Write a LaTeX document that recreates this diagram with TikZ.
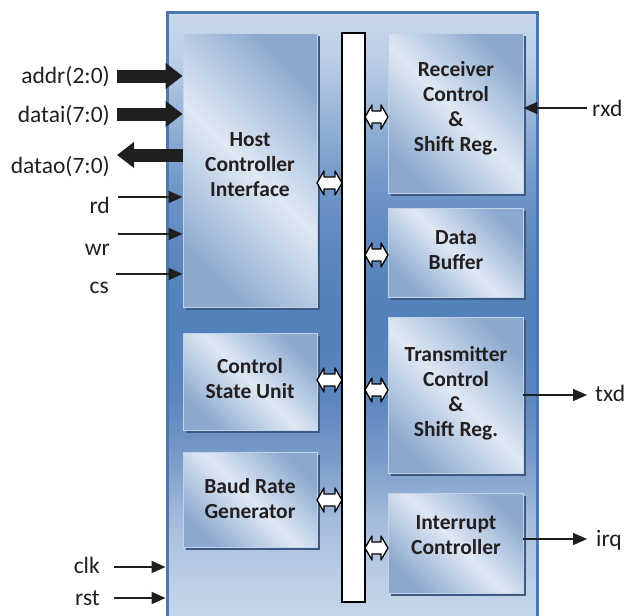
\documentclass[tikz,border=0pt]{standalone}
\usepackage{fontspec}
\setmainfont{Carlito}
\usetikzlibrary{arrows.meta,shadows}
\definecolor{oa}{HTML}{C9D8EB}
\definecolor{ob}{HTML}{BCCEE6}
\definecolor{oc}{HTML}{96B2D7}
\definecolor{od}{HTML}{7399C9}
\definecolor{oe}{HTML}{5E88BF}
\definecolor{of}{HTML}{5280BA}
\definecolor{og}{HTML}{5C86BE}
\definecolor{oh}{HTML}{7B9CCA}
\definecolor{oi}{HTML}{A5BCDC}
\definecolor{oj}{HTML}{C0D1E7}
\definecolor{ok}{HTML}{C8D7EA}
\definecolor{oedge}{HTML}{4A78B2}
\definecolor{bdk}{HTML}{8CA8CE}
\definecolor{blt}{HTML}{DFE8F3}
\definecolor{bmd}{HTML}{B8CBE3}
\definecolor{bedge}{HTML}{C3D3E7}
\definecolor{shd}{HTML}{3C5A84}
\definecolor{txt}{HTML}{231F20}
\pgfdeclarehorizontalshading{glass}{100bp}{color(0bp)=(bdk); color(25bp)=(bdk); color(38bp)=(bmd); color(50bp)=(blt); color(62bp)=(bmd); color(75bp)=(bdk); color(100bp)=(bdk)}
\pgfdeclareverticalshading{chipshade}{100bp}{color(0bp)=(ok); color(25bp)=(ok); color(29bp)=(oj); color(34.6bp)=(oi); color(39.3bp)=(oh); color(44.1bp)=(og); color(50.5bp)=(of); color(56.8bp)=(oe); color(61.6bp)=(od); color(66.4bp)=(oc); color(71.2bp)=(ob); color(75bp)=(oa); color(100bp)=(oa)}
\begin{document}
\begin{tikzpicture}[x=1pt,y=-1pt,
  outer/.style={rectangle, inner sep=0, shading=chipshade, draw=oedge, line width=3pt},
  ibox/.style={rectangle, inner sep=0, shading=glass, shading angle=45, draw=bedge, line width=0.8pt,
    drop shadow={shadow xshift=3pt, shadow yshift=-3pt, fill=shd, opacity=1}},
  btext/.style={font=\bfseries\fontsize{21.5}{25}\selectfont, text=txt, align=center, inner sep=0},
  lbl/.style={font=\fontsize{23.5}{28}\selectfont, text=txt, inner sep=0},
  busbox/.style={rectangle, draw=black, fill=white, line width=2pt, inner sep=0},
  bigarr/.style={line width=13pt, draw=black!88, -{Triangle[length=17pt,width=25pt]}},
  smallarr/.style={line width=1.6pt, draw=black!88, -{Triangle[length=14pt,width=12pt]}},
  pics/dbl/.style={code={
    \draw[fill=white, draw=black, line width=1.3pt, line join=round]
      (-#1,0) -- (-#1+7,-12) -- (-#1+7,-6) -- (#1-7,-6) -- (#1-7,-12) -- (#1,0)
      -- (#1-7,12) -- (#1-7,6) -- (-#1+7,6) -- (-#1+7,12) -- cycle;}}
]
\clip (0,0) rectangle (627,616);
% outer chip
\node[outer, minimum width=370, minimum height=628] (chip) at (352,326) {};
% inner boxes
\node[ibox, minimum width=134, minimum height=274] (hci) at (250,170) {};
\node[ibox, minimum width=134, minimum height=97] (csu) at (250,381.5) {};
\node[ibox, minimum width=134, minimum height=95] (brg) at (250,499.5) {};
\node[ibox, minimum width=135, minimum height=160] (rcv) at (455.5,113) {};
\node[ibox, minimum width=135, minimum height=89] (dbuf) at (455.5,252.5) {};
\node[ibox, minimum width=135, minimum height=156] (tx) at (455.5,395) {};
\node[ibox, minimum width=135, minimum height=100] (intc) at (455.5,543) {};
% texts
\node[btext] (thci) at (250,165) {Host\\Controller\\Interface};
\node[btext] (tcsu) at (250,379) {Control\\State Unit};
\node[btext] (tbrg) at (250,499) {Baud Rate\\Generator};
\node[btext] (trcv) at (456,108) {Receiver\\Control\\\&\\Shift Reg.};
\node[btext] (tdb) at (456,250) {Data\\Buffer};
\node[btext] (ttx) at (456,393) {Transmitter\\Control\\\&\\Shift Reg.};
\node[btext] (tint) at (456,535) {Interrupt\\Controller};
% bus
\node[busbox, minimum width=23, minimum height=569] (bus) at (353.5,317.5) {};
% double arrows between blocks and bus
\pic (d1) at (329.5,183) {dbl=12.5};
\pic (d2) at (329.5,380) {dbl=12.5};
\pic (d3) at (329.5,500) {dbl=12.5};
\pic (d4) at (376.5,117) {dbl=11.5};
\pic (d5) at (376.5,255) {dbl=11.5};
\pic (d6) at (376.5,390) {dbl=11.5};
\pic (d7) at (376.5,548) {dbl=11.5};
% external signals
\coordinate (addrS) at (117,76);
\coordinate (dataiS) at (117,114);
\coordinate (dataoE) at (117,155);
\coordinate (rdS) at (118,197);
\coordinate (wrS) at (118,234);
\coordinate (csS) at (116,274);
\coordinate (clkS) at (114,567);
\coordinate (rstS) at (114,598);
\coordinate (rxdS) at (587,108);
\coordinate (txdE) at (587,395);
\coordinate (irqE) at (587,539);
\draw[bigarr] (addrS) -- (addrS -| hci.west);
\draw[bigarr] (dataiS) -- (dataiS -| hci.west);
\draw[bigarr] (dataoE -| hci.west) -- (dataoE);
\draw[smallarr] (rdS) -- (rdS -| hci.west);
\draw[smallarr] (wrS) -- (wrS -| hci.west);
\draw[smallarr] (csS) -- (csS -| hci.west);
\draw[smallarr] (clkS) -- (clkS -| chip.west);
\draw[smallarr] (rstS) -- (rstS -| chip.west);
\draw[smallarr] (rxdS) -- (rxdS -| rcv.east);
\draw[smallarr] (txdE -| tx.east) -- (txdE);
\draw[smallarr] (irqE -| intc.east) -- (irqE);
% labels
\node[lbl, anchor=base east] (laddr) at (110,83) {addr(2:0)};
\node[lbl, anchor=base east] (ldatai) at (110,122) {datai(7:0)};
\node[lbl, anchor=base east] (ldatao) at (110,173) {datao(7:0)};
\node[lbl, anchor=base east] (lrd) at (110,213) {rd};
\node[lbl, anchor=base east] (lwr) at (110,255) {wr};
\node[lbl, anchor=base east] (lcs) at (109,293) {cs};
\node[lbl, anchor=base east] (lclk) at (100,573) {clk};
\node[lbl, anchor=base east] (lrst) at (100,605) {rst};
\node[lbl, anchor=base west] (lrxd) at (592,116) {rxd};
\node[lbl, anchor=base west] (ltxd) at (595,401) {txd};
\node[lbl, anchor=base west] (lirq) at (596,546) {irq};
\end{tikzpicture}
\end{document}
